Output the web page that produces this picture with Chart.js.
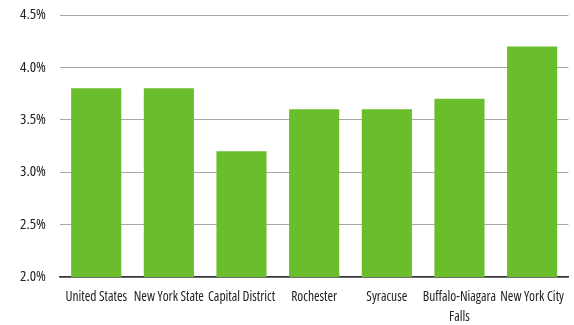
<!DOCTYPE html>
<html>
<head>
<meta charset="utf-8">
<script src="https://cdn.jsdelivr.net/npm/chart.js"></script>
<style>
  html, body { margin: 0; padding: 0; background: #fff; }
  #wrap { width: 574px; height: 325px; }
</style>
</head>
<body>
<div id="wrap"><canvas id="myChart"></canvas></div>
<script>
var regions = ["United States", "New York State", "Capital District", "Rochester", "Syracuse", ["Buffalo-Niagara", "Falls"], "New York City"];
var rates = [3.8, 3.8, 3.2, 3.6, 3.6, 3.7, 4.2];
var yMin = 2.0, yMax = 4.5, yStep = 0.5;
var barColor = "#6abd2b";

// condensed look via the variable width axis of Open Sans
var fontFam = "'Open Sans', sans-serif";

new Chart("myChart", {
  type: "bar",
  data: {
    labels: regions,
    datasets: [{
      data: rates,
      backgroundColor: barColor,
      categoryPercentage: 0.69,
      barPercentage: 1.0
    }]
  },
  options: {
    responsive: true,
    maintainAspectRatio: false,
    animation: false,
    layout: { padding: { top: 15, right: 0, left: 6, bottom: 0 } },
    plugins: {
      legend: { display: false },
      tooltip: { enabled: false }
    },
    scales: {
      x: {
        grid: { display: false, drawTicks: false },
        border: { display: true, color: "#333", width: 1.5 },
        afterFit: function(s) { s.height = 48; },
        ticks: {
          color: "#222",
          font: { family: fontFam, size: 13.5, weight: "semi-condensed", lineHeight: 1.5 },
          maxRotation: 0,
          autoSkip: false,
          padding: 10
        }
      },
      y: {
        min: yMin,
        max: yMax,
        border: { display: false },
        grid: { color: "#a8a8a8", lineWidth: 1, drawTicks: false },
        afterFit: function(s) { s.paddingTop = 0; s.paddingBottom = 0; },
        ticks: {
          stepSize: yStep,
          color: "#222",
          font: { family: fontFam, size: 15, weight: "semi-condensed" },
          padding: 14,
          callback: function(v) { return v.toFixed(1) + "%"; }
        }
      }
    }
  }
});
</script>
</body>
</html>
